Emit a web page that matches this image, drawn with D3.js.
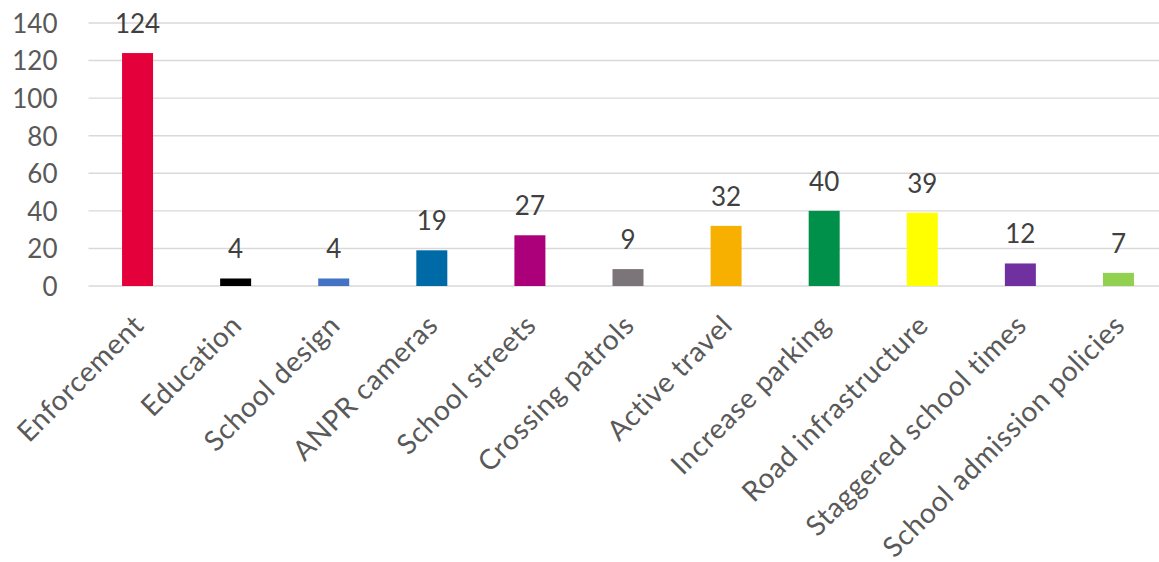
<!DOCTYPE html>
<html>
<head>
<meta charset="utf-8">
<script src="https://cdn.jsdelivr.net/npm/d3@7"></script>
<style>
  html, body { margin: 0; padding: 0; background: #fff; }
  svg { display: block; }
  text { font-family: Lato, "Open Sans", sans-serif; }
</style>
</head>
<body>
<svg id="chart" width="1159" height="562"></svg>
<script>
// Responses per measure
const categories = [
  "Enforcement", "Education", "School design", "ANPR cameras", "School streets",
  "Crossing patrols", "Active travel", "Increase parking", "Road infrastructure",
  "Staggered school times", "School admission policies"
];
const values = [124, 4, 4, 19, 27, 9, 32, 40, 39, 12, 7];
const colors = [
  "#E4003B", "#000000", "#4472C4", "#006AA6", "#AB007A",
  "#7B7579", "#F8B000", "#00904A", "#FFFF00", "#7030A0", "#92D050"
];
const yTicks = [0, 20, 40, 60, 80, 100, 120, 140];

const svg = d3.select("#chart");
const plotLeft = 88.5, plotRight = 1167.5, plotTop = 23, plotBottom = 286;

const x = d3.scaleBand()
  .domain(categories)
  .range([plotLeft, plotRight])
  .paddingInner(0.684)
  .paddingOuter(0.342);

const y = d3.scaleLinear().domain([0, 140]).range([plotBottom, plotTop]);

// Horizontal gridlines (the zero line doubles as the category axis)
svg.append("g")
  .selectAll("line")
  .data(yTicks)
  .join("line")
  .attr("x1", plotLeft)
  .attr("x2", 1159)
  .attr("y1", d => y(d))
  .attr("y2", d => y(d))
  .attr("stroke", "#D9D9D9")
  .attr("stroke-width", 1.4);

// Value axis labels
const yAxis = svg.append("g")
  .attr("transform", `translate(${plotLeft - 31},0)`)
  .call(d3.axisLeft(y).tickValues(yTicks).tickSize(0).tickPadding(0));
yAxis.select(".domain").remove();
yAxis.selectAll("text")
  .attr("fill", "#595959")
  .style("font-size", "26px")
  .attr("dy", "0.36em");

// Bars
svg.append("g")
  .selectAll("rect")
  .data(values)
  .join("rect")
  .attr("x", (d, i) => x(categories[i]))
  .attr("width", x.bandwidth())
  .attr("y", d => y(d))
  .attr("height", d => y(0) - y(d))
  .attr("fill", (d, i) => colors[i]);

// Value labels above bars
svg.append("g")
  .selectAll("text")
  .data(values)
  .join("text")
  .attr("x", (d, i) => x(categories[i]) + x.bandwidth() / 2)
  .attr("y", d => y(d) - 20)
  .attr("text-anchor", "middle")
  .attr("fill", "#404040")
  .style("font-size", "26px")
  .text(d => d);

// Rotated category labels
svg.append("g")
  .selectAll("text")
  .data(categories)
  .join("text")
  .attr("transform", d => `translate(${x(d) + x.bandwidth() / 2 + 8},327) rotate(-45)`)
  .attr("text-anchor", "end")
  .attr("fill", "#595959")
  .style("font-size", "28px")
  .style("letter-spacing", "0.7px")
  .text(d => d);
</script>
</body>
</html>
